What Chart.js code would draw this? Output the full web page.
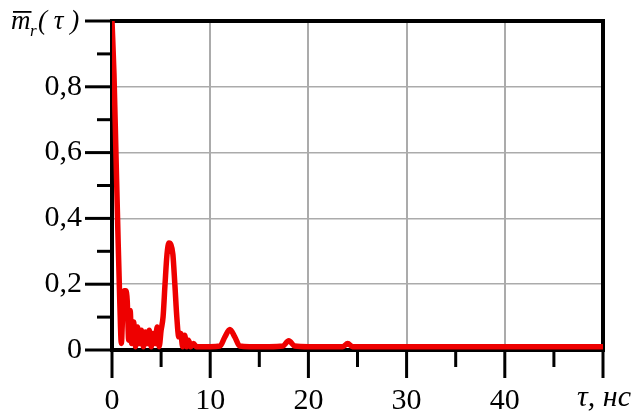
<!DOCTYPE html>
<html>
<head>
<meta charset="utf-8">
<script src="https://cdn.jsdelivr.net/npm/chart.js@4.4.1/dist/chart.umd.min.js"></script>
<style>
  html, body { margin: 0; background: #fff; }
  #wrap { width: 632px; height: 415px; }
</style>
</head>
<body>
<div id="wrap"><canvas id="corrChart"></canvas></div>
<script>
// delay tau, ns
const tau = [0, 0.2, 0.4, 0.6, 0.8, 0.95, 1.1, 1.25, 1.4, 1.55, 1.7, 1.85, 2.0, 2.2, 2.4, 2.6, 2.8,
    3.0, 3.2, 3.4, 3.6, 3.8, 4.0, 4.2, 4.4, 4.6, 4.8, 5.0, 5.2, 5.4, 5.6, 5.8, 6.0,
    6.2, 6.4, 6.6, 6.8, 7.0, 7.2, 7.4, 7.6, 7.8, 8.0, 8.3, 8.6, 9, 10, 11, 11.5, 12,
    12.5, 13, 14, 16, 17.4, 18, 18.6, 20, 22, 23.5, 24, 24.5, 26, 30, 35, 40, 45, 50];
// normalised correlation m_r(tau)
const mr = [1.0, 0.84, 0.6, 0.36, 0.14, 0.02, 0.12, 0.18, 0.18, 0.15, 0.03, 0.12, 0.02, 0.085, 0.01, 0.07, 0.02,
    0.06, 0.01, 0.055, 0.02, 0.06, 0.01, 0.05, 0.02, 0.07, 0.01, 0.06, 0.1, 0.2, 0.29, 0.325, 0.32,
    0.29, 0.2, 0.1, 0.04, 0.05, 0.01, 0.045, 0.01, 0.03, 0.01, 0.02, 0.01, 0.01, 0.01, 0.012, 0.04, 0.062,
    0.04, 0.012, 0.01, 0.01, 0.012, 0.028, 0.012, 0.01, 0.01, 0.01, 0.02, 0.01, 0.01, 0.01, 0.01, 0.01, 0.01, 0.01];

const xTicks = [0, 10, 20, 30, 40, 50];
const xTickLabels = ['0', '10', '20', '30', '40', ''];
const yTicks = [0, 0.2, 0.4, 0.6, 0.8, 1.0];
const yTickLabels = ['0', '0,2', '0,4', '0,6', '0,8', ''];

const SERIF = '"Liberation Serif", "Times New Roman", serif';
const GRID = '#ababab';

function isMajorX(v) { return Math.round(v) % 10 === 0; }
function isMajorY(v) { return Math.round(v * 10) % 2 === 0; }

// frame, tick marks and axis titles
const framePlugin = {
    id: 'frame',
    beforeDatasetsDraw(chart) {
        const { ctx, chartArea: a, scales: { x, y } } = chart;
        ctx.save();
        ctx.strokeStyle = '#000';
        ctx.lineCap = 'butt';

        ctx.lineWidth = 3;
        for (let v = 0; v <= 50; v += 5) {
            const px = x.getPixelForValue(v);
            const len = isMajorX(v) ? 28 : 17;
            ctx.beginPath();
            ctx.moveTo(px, a.bottom);
            ctx.lineTo(px, a.bottom + len);
            ctx.stroke();
        }
        for (let i = 0; i <= 10; i++) {
            const v = i / 10;
            const py = y.getPixelForValue(v);
            const len = i % 2 === 0 ? 27 : 15;
            ctx.beginPath();
            ctx.moveTo(a.left, py);
            ctx.lineTo(a.left - len, py);
            ctx.stroke();
        }

        ctx.lineWidth = 4;
        ctx.beginPath();
        ctx.moveTo(a.left, a.top);
        ctx.lineTo(a.right, a.top);
        ctx.lineTo(a.right, a.bottom);
        ctx.lineTo(a.left, a.bottom);
        ctx.closePath();
        ctx.stroke();
        ctx.restore();
    },
    afterDraw(chart) {
        const { ctx } = chart;
        ctx.save();
        ctx.fillStyle = '#000';
        ctx.textBaseline = 'alphabetic';

        // y title: m̄_r( τ )
        ctx.font = 'italic 27px ' + SERIF;
        ctx.textAlign = 'left';
        ctx.fillText('m', 11, 29);
        const mw = ctx.measureText('m').width;
        ctx.fillRect(13, 11, mw - 1, 1.8);
        ctx.font = 'italic 17px ' + SERIF;
        ctx.fillText('r', 30, 36);
        ctx.font = 'italic 27px ' + SERIF;
        ctx.fillText('( τ )', 38, 29);

        // x title
        ctx.font = 'italic 30px ' + SERIF;
        ctx.textAlign = 'right';
        ctx.fillText('τ, нс', 631, 406);
        ctx.restore();
    }
};

new Chart(document.getElementById('corrChart'), {
    type: 'line',
    data: {
        datasets: [{
            data: tau.map((t, i) => ({ x: t, y: mr[i] })),
            borderColor: '#ee0000',
            borderWidth: 5.5,
            pointRadius: 0,
            fill: false,
            cubicInterpolationMode: 'monotone',
            borderJoinStyle: 'round'
        }]
    },
    options: {
        responsive: true,
        maintainAspectRatio: false,
        animation: false,
        devicePixelRatio: 1,
        layout: { padding: { top: 20, right: 29, left: 0, bottom: 0 } },
        plugins: { legend: { display: false }, tooltip: { enabled: false } },
        scales: {
            x: {
                type: 'linear',
                min: 0,
                max: 50,
                afterFit(scale) { scale.height = 65; },
                ticks: {
                    stepSize: 5,
                    autoSkip: false,
                    maxRotation: 0,
                    padding: 5,
                    color: '#000',
                    font: { family: SERIF, size: 30 },
                    callback(v) {
                        const i = xTicks.indexOf(Math.round(v));
                        return isMajorX(v) && i >= 0 ? xTickLabels[i] : '';
                    }
                },
                grid: {
                    drawTicks: true,
                    tickLength: 28,
                    tickColor: 'transparent',
                    lineWidth: 2,
                    color(c) {
                        const v = c.tick ? c.tick.value : 0;
                        return isMajorX(v) && v > 0 && v < 50 ? GRID : 'transparent';
                    }
                },
                border: { display: false }
            },
            y: {
                min: 0,
                max: 1,
                afterFit(scale) { scale.width = 112; },
                ticks: {
                    stepSize: 0.1,
                    autoSkip: false,
                    padding: 3,
                    color: '#000',
                    font: { family: SERIF, size: 30 },
                    callback(v) {
                        const i = yTicks.findIndex(t => Math.abs(t - v) < 1e-6);
                        return i >= 0 ? yTickLabels[i] : '';
                    }
                },
                grid: {
                    drawTicks: true,
                    tickLength: 27,
                    tickColor: 'transparent',
                    lineWidth: 1.5,
                    color(c) {
                        const v = c.tick ? c.tick.value : 0;
                        return isMajorY(v) && v > 0.01 && v < 0.99 ? GRID : 'transparent';
                    }
                },
                border: { display: false }
            }
        }
    },
    plugins: [framePlugin]
});
</script>
</body>
</html>
